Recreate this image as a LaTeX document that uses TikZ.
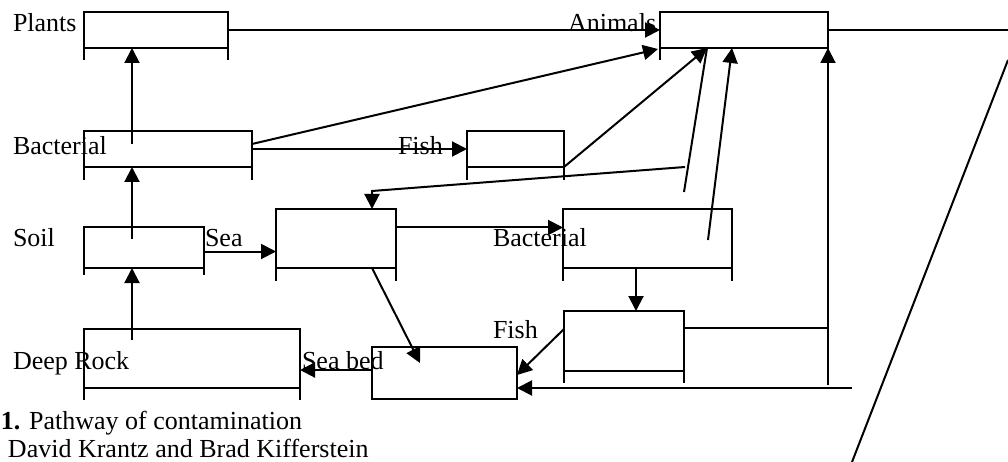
\documentclass[tikz,border=0pt]{standalone}
\usepackage{fontspec}
\setmainfont{Liberation Serif}
\usetikzlibrary{arrows.meta}
\begin{document}
\begin{tikzpicture}[x=1pt,y=-1pt,line width=2pt,
  box/.style={draw,rectangle,inner sep=0pt,outer sep=0pt,anchor=north west},
  lbl/.style={inner sep=0pt,anchor=base west,font=\fontsize{26pt}{30pt}\selectfont},
  arr/.style={-{Triangle[length=15pt,width=15pt]}}]
\useasboundingbox (0,0) rectangle (1008,462);
% boxes
\node[box,minimum width=144pt,minimum height=36pt] (plants) at (84,12) {};
\node[box,minimum width=168pt,minimum height=36pt] (animals) at (660,12) {};
\node[box,minimum width=168pt,minimum height=36pt] (bactL) at (84,131) {};
\node[box,minimum width=97pt,minimum height=36pt] (fishT) at (467,131) {};
\node[box,minimum width=120pt,minimum height=41pt] (soil) at (84,227) {};
\node[box,minimum width=120pt,minimum height=59pt] (sea) at (276,209) {};
\node[box,minimum width=169pt,minimum height=59pt] (bactR) at (563,209) {};
\node[box,minimum width=120pt,minimum height=60pt] (fishB) at (564,311) {};
\node[box,minimum width=145pt,minimum height=52pt] (seabed) at (372,347) {};
\node[box,minimum width=216pt,minimum height=59pt] (rock) at (84,329) {};
% legs
\foreach \b/\l in {plants/12,animals/12,bactL/13,fishT/13,soil/7,sea/13,bactR/13,fishB/12,rock/12}{
  \draw (\b.south west) -- ++(0,\l);
  \draw (\b.south east) -- ++(0,\l);
}
% labels
\node[lbl] (tPlants) at (12,32) {Plants};
\node[lbl] (tAnimals) at (567,32) {Animals};
\node[lbl] (tBactL) at (12,155) {Bacterial};
\node[lbl] (tFishT) at (397,155) {Fish};
\node[lbl] (tSoil) at (12,247) {Soil};
\node[lbl] (tSea) at (204,247) {Sea};
\node[lbl] (tBactR) at (492,247) {Bacterial};
\node[lbl] (tFishB) at (492,338) {Fish};
\node[lbl] (tRock) at (12,369) {Deep Rock};
\node[lbl] (tSeabed) at (301,369) {Sea bed};
\node[lbl] (cap1) at (0,429) {\textbf{1.} Pathway of contamination};
\node[lbl] (cap2) at (7,457) {David Krantz and Brad Kifferstein};
% free ends
\coordinate (edgeR) at (1008,30);
\coordinate (diagT) at (1008,60);
\coordinate (diagB) at (852,462);
\coordinate (a1) at (132,144);
\coordinate (a2) at (132,239);
\coordinate (a3) at (132,340);
\coordinate (fbS) at (684,192);
\coordinate (fbA) at (685,167);
\coordinate (fbB) at (372,191);
\coordinate (brS) at (708,240);
\coordinate (rv) at (828,385);
\coordinate (rh) at (852,388);
% connectors
\draw[arr] (a1) -- (a1 |- plants.south);
\draw[arr] (a2) -- (a2 |- bactL.south);
\draw[arr] (a3) -- (a3 |- soil.south);
\draw[arr] (plants.east) -- (animals.west);
\draw (animals.east) -- (edgeR);
\draw (diagT) -- (diagB);
\draw[arr] ([yshift=5pt]bactL.east) -- ([shift={(-2,1)}]animals.south west);
\draw[arr] (bactL.east) -- (fishT.west);
\draw[arr] (fishT.south east) -- ([xshift=47pt]animals.south west);
\draw (fbS) -- ([xshift=47pt]animals.south west);
\draw[arr] (fbA) -- (fbB) -- (fbB |- sea.north);
\draw[arr] (brS) -- ([xshift=72pt]animals.south west);
\draw[arr] ([yshift=11pt]sea.east) -- ([yshift=11pt]bactR.west);
\draw[arr] ([yshift=-4pt]soil.east) -- ([yshift=-4pt]soil.east -| sea.west);
\draw[arr] ([xshift=73pt]bactR.south west) -- ([xshift=72pt]fishB.north west);
\draw[arr] ([yshift=12pt]fishB.west) -- ([yshift=-2pt]seabed.east);
\draw[arr] ([xshift=96pt]sea.south west) -- ([shift={(48,16)}]seabed.north west);
\draw[arr] ([yshift=3pt]seabed.west) -- ([yshift=3pt]seabed.west -| rock.east);
\draw ([yshift=13pt]fishB.east) -- ([yshift=13pt]fishB.east -| rv);
\draw[arr] (rv) -- (animals.south east);
\draw[arr] (rh) -- (rh -| seabed.east);
\end{tikzpicture}
\end{document}
